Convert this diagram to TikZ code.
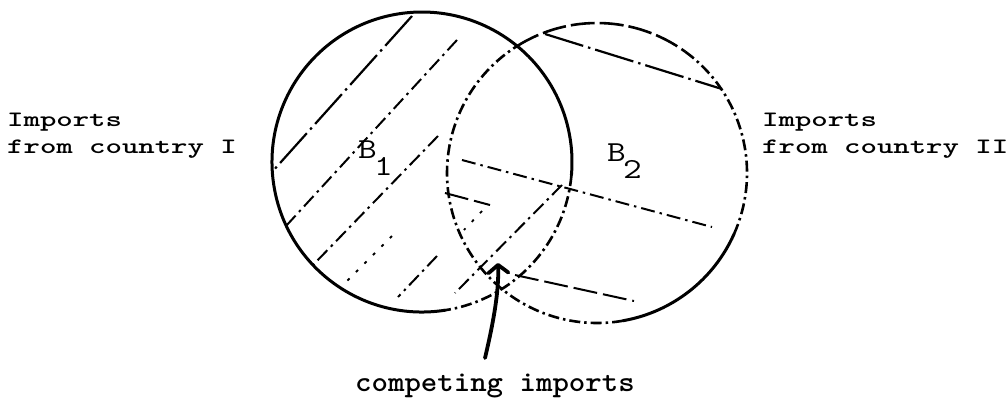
\documentclass[tikz,border=0pt]{standalone}
\usepackage{graphicx}
\usetikzlibrary{arrows.meta}
\newcommand\stretchtxt[2]{\scalebox{#1}[1]{#2}}
\tikzset{
  txt/.style={inner sep=0pt, anchor=base west, font=\fontsize{22}{22}\selectfont\ttfamily\bfseries},
  txtb/.style={inner sep=0pt, anchor=base west, font=\fontsize{29}{29}\selectfont\ttfamily\bfseries},
  blab/.style={inner sep=0pt, anchor=base west, font=\fontsize{29}{29}\selectfont\ttfamily},
  solidline/.style={line width=3pt, line cap=round},
  dashdotline/.style={line width=2.6pt, dash pattern=on 11pt off 4pt on 2.5pt off 4pt},
  longdash/.style={line width=2.6pt, dash pattern=on 24pt off 5pt},
  hatchA/.style={line width=2pt, dash pattern=on 14pt off 5pt on 2.5pt off 5pt},
  hatchS/.style={line width=2.2pt, dash pattern=on 40pt off 5pt on 2.5pt off 5pt},
  hatchB/.style={line width=2pt, dash pattern=on 24pt off 6pt},
  hatchF/.style={line width=1.8pt, dash pattern=on 3pt off 9pt},
  pointer/.style={line width=3.8pt, line cap=round, -{Straight Barb[length=8pt,width=20pt,round]}},
}
\begin{document}
\begin{tikzpicture}[x=1pt,y=-1pt]
\useasboundingbox (0,0) rectangle (1007,397);
\coordinate (c1) at (422,162);
\coordinate (c2) at (597,173);
% left circle B1
\draw[solidline] (c1) ++(81:150) arc[start angle=81,end angle=365,radius=150];
\draw[dashdotline] (c1) ++(5:150) arc[start angle=5,end angle=81,radius=150];
% right circle B2
\draw[dashdotline] (c2) ++(129.3:150) arc[start angle=129.3,end angle=237.8,radius=150];
\draw[longdash] (c2) ++(237.8:150) arc[start angle=237.8,end angle=306,radius=150];
\draw[dashdotline] (c2) ++(306:150) arc[start angle=306,end angle=384,radius=150];
\draw[solidline] (c2) ++(24:150) arc[start angle=24,end angle=80,radius=150];
\draw[dashdotline] (c2) ++(80:150) arc[start angle=80,end angle=129.3,radius=150];
% hatching, left part
\draw[hatchS] (412,16) -- (272,172);
\draw[hatchA] (457,40) -- (286,226);
\draw[hatchA] (438,136) -- (313,265);
\draw[hatchA] (437,256) -- (398,297);
\draw[hatchF] (392,236) -- (345,283);
% hatching, common part
\draw[hatchA] (562,185) -- (455,293);
\draw[hatchB] (445,193) -- (490,205);
\draw[hatchF] (482,211) -- (464,230);
% hatching, right part
\draw[hatchS] (545,34) -- (722,89);
\draw[hatchA] (462,160) -- (712,227);
\draw[hatchB] (515,275) -- (634,301);
% labels
\node[blab] (b1) at (358,158) {\stretchtxt{1.25}{B}};
\node[blab] (b1s) at (374,175) {\stretchtxt{1.25}{1}};
\node[blab] (b2) at (607,161) {\stretchtxt{1.25}{B}};
\node[blab] (b2s) at (623,178) {\stretchtxt{1.25}{2}};
\node[txt] (i1a) at (7,126) {\stretchtxt{1.42}{Imports}};
\node[txt] (i1b) at (7,153) {\stretchtxt{1.42}{from country I}};
\node[txt] (i2a) at (762,126) {\stretchtxt{1.42}{Imports}};
\node[txt] (i2b) at (762,153) {\stretchtxt{1.42}{from country II}};
\node[txtb] (comp) at (355,391) {\stretchtxt{1.08}{competing imports}};
% arrow
\coordinate (tail) at (485,358);
\coordinate (tip) at (498,263);
\draw[pointer] (tail) .. controls (494,320) and (499,290) .. (tip);
\end{tikzpicture}
\end{document}
